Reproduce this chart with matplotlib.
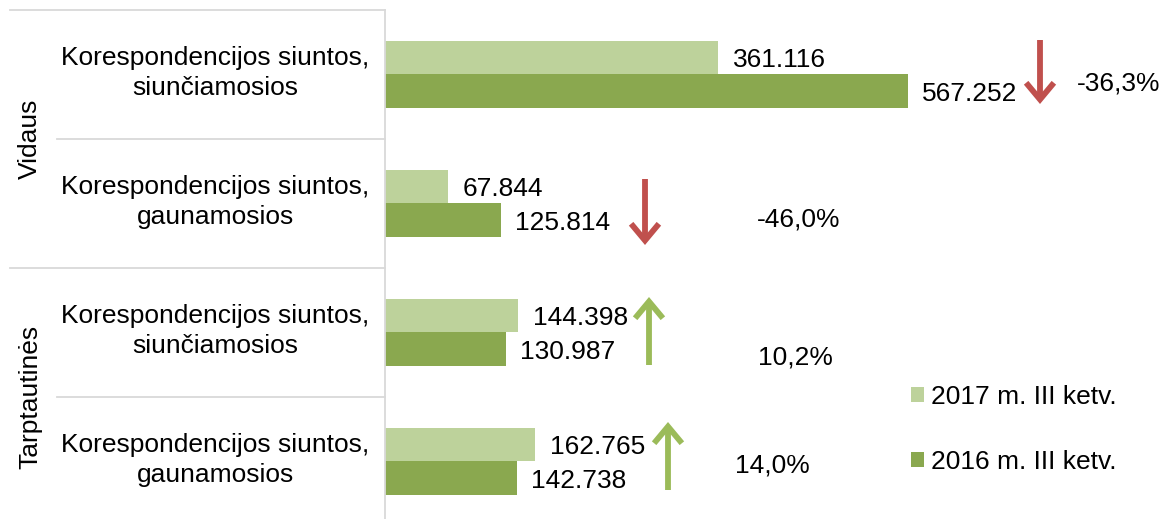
import matplotlib
matplotlib.use("Agg")
import matplotlib.pyplot as plt
from matplotlib.patches import Patch
from matplotlib.lines import Line2D
import numpy as np

plt.rcParams['font.family'] = ['Liberation Sans', 'DejaVu Sans']

# ---- data ----
categories = ["Korespondencijos siuntos,\nsiunčiamosios",
              "Korespondencijos siuntos,\ngaunamosios",
              "Korespondencijos siuntos,\nsiunčiamosios",
              "Korespondencijos siuntos,\ngaunamosios"]
groups = ["Vidaus", "Tarptautinės"]
series_2017 = [361.116, 67.844, 144.398, 162.765]
series_2016 = [567.252, 125.814, 130.987, 142.738]
labels_series = ["2017 m. III ketv.", "2016 m. III ketv."]
changes = [-36.3, -46.0, 10.2, 14.0]

# ---- style ----
c_light = "#BDD29B"
c_dark = "#8AA84F"
c_red = "#C0504D"
c_green = "#9BBB59"
c_grid = "#D9D9D9"
fs = 19

W, H = 1170, 519
fig = plt.figure(figsize=(W / 100, H / 100), dpi=100)

def fx(px):
    return px / W

def fy(py):
    return 1 - py / H

ax_left, ax_top, ax_right, ax_bottom = 385, 10, 1170, 526
ax = fig.add_axes([fx(ax_left), fy(ax_bottom), fx(ax_right - ax_left), (ax_bottom - ax_top) / H])

y = np.arange(len(categories))
bh = 0.26
ax.barh(y - bh / 2, series_2017, height=bh, color=c_light, label=labels_series[0])
ax.barh(y + bh / 2, series_2016, height=bh, color=c_dark, label=labels_series[1])
ax.set_xlim(0, 851)
ax.set_ylim(len(categories) - 0.5, -0.5)
ax.set_xticks([])
ax.set_yticks([])
for s in ["top", "right", "bottom"]:
    ax.spines[s].set_visible(False)
ax.spines["left"].set_color(c_grid)
ax.spines["left"].set_linewidth(1.3)

def fmt(v):
    return f"{v:.3f}"

for yi, v in zip(y, series_2017):
    ax.annotate(fmt(v), (v, yi - bh / 2), xytext=(15, -2), textcoords="offset pixels",
                ha="left", va="center", fontsize=fs)
for yi, v in zip(y, series_2016):
    ax.annotate(fmt(v), (v, yi + bh / 2), xytext=(14, -3), textcoords="offset pixels",
                ha="left", va="center", fontsize=fs)

# category labels and separators
tr = ax.get_yaxis_transform()
label_x = (215 - ax_left) / (ax_right - ax_left)
for yi, cat in zip(y, categories):
    ax.text(label_x, yi - 0.01, cat, transform=tr, ha="center", va="center",
            fontsize=fs, multialignment="center", linespacing=1.32)

x_outer = (10 - ax_left) / (ax_right - ax_left)
x_inner = (57 - ax_left) / (ax_right - ax_left)
for yb, xs in [(-0.5, x_outer), (0.5, x_inner), (1.5, x_outer), (2.5, x_inner)]:
    ax.add_line(Line2D([xs, 0], [yb, yb], transform=tr, color=c_grid, lw=1.3, clip_on=False))

group_x = (30 - ax_left) / (ax_right - ax_left)
for gi, g in enumerate(groups):
    ax.text(group_x, 2 * gi + 0.5, g, transform=tr, rotation=90, ha="center", va="center",
            fontsize=fs)

# change arrows and percentage labels (figure pixel layout)
arrow_pos = [(1040, 40, 104), (645, 179, 245), (649, 365, 297), (668, 490, 422)]
pct_pos = [(1077, 83), (757, 220), (758, 357), (735, 465)]
for ch, (axp, y0, y1), (tx, ty) in zip(changes, arrow_pos, pct_pos):
    col = c_red if ch < 0 else c_green
    fig.add_artist(matplotlib.patches.FancyArrowPatch(
        (fx(axp), fy(y0)), (fx(axp), fy(y1)), transform=fig.transFigure,
        arrowstyle="->,head_length=0.6,head_width=0.5", mutation_scale=20,
        color=col, lw=4.2, shrinkA=0, shrinkB=0, capstyle="butt", joinstyle="miter"))
    fig.text(fx(tx), fy(ty), f"{ch:.1f}%".replace(".", ","), ha="left", va="center", fontsize=fs)

handles = [Patch(facecolor=c_light), Patch(facecolor=c_dark)]
fig.legend(handles, labels_series, loc="upper left", bbox_to_anchor=(fx(911), fy(385)),
           frameon=False, fontsize=fs, handlelength=0.5, handleheight=0.5,
           handletextpad=0.25, labelspacing=1.55, borderpad=0, borderaxespad=0)

fig.savefig("out.png", dpi=100)
